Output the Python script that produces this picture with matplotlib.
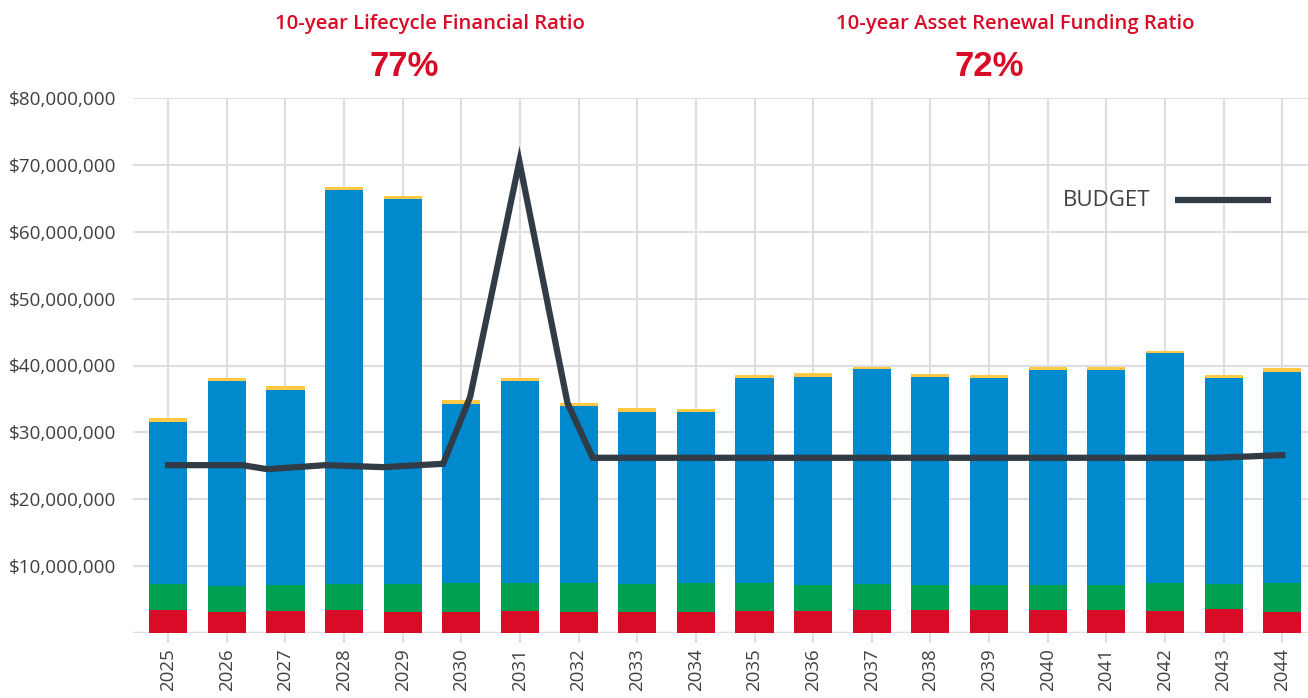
import matplotlib.pyplot as plt
import numpy as np

# Data (values in $ millions)
years = [str(y) for y in range(2025, 2045)]
red_top = [3.48, 3.18, 3.33, 3.48, 3.18, 3.18, 3.33, 3.18, 3.18, 3.18,
           3.33, 3.33, 3.48, 3.48, 3.48, 3.48, 3.48, 3.33, 3.63, 3.18]
green_top = [7.37, 7.07, 7.17, 7.37, 7.37, 7.47, 7.47, 7.47, 7.37, 7.47,
             7.47, 7.22, 7.37, 7.22, 7.22, 7.22, 7.12, 7.47, 7.37, 7.47]
blue_top = [31.6, 37.7, 36.3, 66.2, 64.9, 34.2, 37.7, 33.9, 33.1, 33.0,
            38.1, 38.3, 39.5, 38.3, 38.1, 39.3, 39.3, 41.9, 38.1, 39.0]
total = [32.1, 38.1, 36.9, 66.7, 65.3, 34.8, 38.1, 34.4, 33.6, 33.5,
         38.6, 38.9, 39.8, 38.7, 38.6, 39.8, 39.8, 42.2, 38.6, 39.6]

# budget line vertices (x in category units, as drawn in the source)
budget_x = [0.0, 1.26, 1.69, 2.68, 3.67, 4.69, 5.15, 5.99, 6.81, 7.24, 17.85, 19.0]
budget_y = [25.1, 25.1, 24.5, 25.1, 24.8, 25.3, 35.3, 70.5, 34.4, 26.2, 26.2, 26.6]

ratio_titles = ['10-year Lifecycle Financial Ratio', '10-year Asset Renewal Funding Ratio']
ratio_values = ['77%', '72%']

RED = '#D80C27'
GREEN = '#00A050'
BLUE = '#0089CC'
YELLOW = '#FFC845'
DARK = '#323C46'
GRID = '#DCDEE2'
TEXT = '#404040'
plt.rcParams['font.family'] = ['Open Sans', 'DejaVu Sans']

m = 1e6
red = np.array(red_top) * m
green = (np.array(green_top) - np.array(red_top)) * m
blue = (np.array(blue_top) - np.array(green_top)) * m
yellow = (np.array(total) - np.array(blue_top)) * m

fig = plt.figure(figsize=(13.08, 6.98), dpi=100)
ax = fig.add_axes([133 / 1308, 1 - 633 / 698, 1 - 133 / 1308, (633 - 98) / 698])

x = np.arange(len(years))
w = 0.65
ax.bar(x, red, w, color=RED, zorder=2)
ax.bar(x, green, w, bottom=red, color=GREEN, zorder=2)
ax.bar(x, blue, w, bottom=red + green, color=BLUE, zorder=2)
ax.bar(x, yellow, w, bottom=red + green + blue, color=YELLOW, zorder=2)

ax.plot(budget_x, np.array(budget_y) * m, color=DARK, lw=4.5, zorder=3,
        solid_joinstyle='miter')

ax.set_xlim(-0.6, 19.44)
ax.set_ylim(0, 80e6)
ax.set_yticks(np.arange(10e6, 80e6 + 1, 10e6))
ax.set_yticklabels(['${:,.0f}'.format(v) for v in np.arange(10e6, 80e6 + 1, 10e6)])
ax.set_xticks(x)
ax.set_xticklabels(years, rotation=90)
ax.grid(True, color=GRID, lw=1.5, zorder=0)
ax.axhline(0, color=GRID, lw=2.5, zorder=1)
for s in ax.spines.values():
    s.set_visible(False)
ax.tick_params(axis='y', length=0, pad=12, labelsize=13.6, labelcolor=TEXT)
ax.tick_params(axis='x', length=7, width=1.5, color=GRID, pad=4,
               labelsize=13.5, labelcolor=TEXT)

# legend drawn by hand, like the source
ax.plot([0.887, 0.9685], [0.809, 0.809], transform=ax.transAxes,
        color=DARK, lw=4.5, solid_capstyle='butt', zorder=4)
ax.text(0.8655, 0.809, 'BUDGET', transform=ax.transAxes, ha='right',
        va='center', fontsize=16, color=TEXT)

# ratio headings
for cx, t, v in zip([430, 1015], ratio_titles, ratio_values):
    fig.text(cx / 1308, 1 - 24 / 698, t, ha='center', va='center',
             fontsize=14.6, color=RED, fontweight='semibold')
    fig.text((cx - 26) / 1308, 1 - 66 / 698, v, ha='center', va='center',
             fontsize=25, color=RED, fontweight='bold',
             family=['Liberation Sans', 'DejaVu Sans'])

fig.savefig('out.png', dpi=100)
